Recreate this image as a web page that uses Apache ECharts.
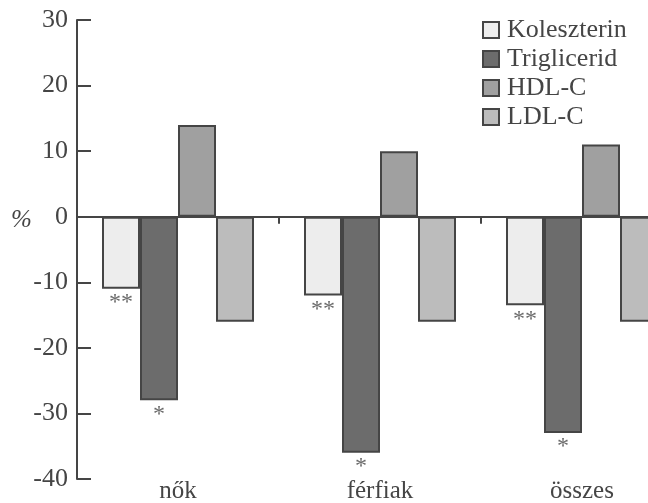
<!DOCTYPE html>
<html>
<head>
<meta charset="utf-8">
<script src="https://cdn.jsdelivr.net/npm/echarts@6/dist/echarts.min.js"></script>
<style>html,body{margin:0;padding:0;background:#fff;}#c{width:648px;height:503px;}</style>
</head>
<body>
<div id="c"></div>
<script>
const categories = ['nők', 'férfiak', 'összes'];
const seriesNames = ['Koleszterin', 'Triglicerid', 'HDL-C', 'LDL-C'];
const koleszterin = [-11, -12, -13.5];
const triglicerid = [-28, -36, -33];
const hdlC = [14, 10, 11];
const ldlC = [-16, -16, -16];
const kolMarks = ['**', '**', '**'];
const trigMarks = ['*', '*', '*'];
const yTicks = { min: -40, max: 30, interval: 10 };

const FONT = '"Liberation Serif", "DejaVu Serif", serif';
const INK = '#454545';
const fills = ['#ededed', '#6c6c6c', '#a0a0a0', '#bcbcbc'];
const values = [koleszterin, triglicerid, hdlC, ldlC];
const marks = [kolMarks, trigMarks, null, null];

const chart = echarts.init(document.getElementById('c'), null, { renderer: 'canvas' });

const series = seriesNames.map((name, i) => ({
  name: name,
  type: 'bar',
  xAxisIndex: 0,
  data: values[i],
  barWidth: 38,
  barGap: '0%',
  itemStyle: { color: fills[i], borderColor: INK, borderWidth: 2 },
  emphasis: { disabled: true },
  label: marks[i] ? {
    show: true,
    position: 'bottom',
    distance: 2,
    formatter: p => marks[i][p.dataIndex],
    fontFamily: FONT,
    fontSize: 24,
    color: '#6a6a6a'
  } : { show: false }
}));

chart.setOption({
  animation: false,
  backgroundColor: '#fff',
  grid: { left: 77, right: -35, top: 20, bottom: 24, containLabel: false, outerBoundsMode: 'none' },
  legend: {
    orient: 'vertical',
    left: 482,
    top: 17,
    padding: 0,
    itemWidth: 16,
    itemHeight: 16,
    itemGap: 3,
    icon: 'rect',
    data: seriesNames,
    textStyle: { fontFamily: FONT, fontSize: 26, color: INK, lineHeight: 26, padding: [0, 0, 0, 3] }
  },
  xAxis: [{
    type: 'category',
    data: categories,
    axisLine: { show: true, onZero: true, lineStyle: { color: INK, width: 2 } },
    axisTick: { show: true, inside: false, length: 7, lineStyle: { color: INK, width: 2 } },
    axisLabel: { show: false },
    splitLine: { show: false }
  }, {
    type: 'category',
    data: categories,
    position: 'bottom',
    axisLine: { show: false, onZero: false },
    axisTick: { show: false },
    axisLabel: { show: true, margin: 0, fontFamily: FONT, fontSize: 25, lineHeight: 25, color: INK },
    splitLine: { show: false }
  }],
  yAxis: {
    type: 'value',
    min: yTicks.min,
    max: yTicks.max,
    interval: yTicks.interval,
    axisLine: { show: true, lineStyle: { color: INK, width: 2 } },
    axisTick: { show: true, inside: true, length: 14, lineStyle: { color: INK, width: 2 } },
    axisLabel: { margin: 9, fontFamily: FONT, fontSize: 26, color: INK },
    splitLine: { show: false }
  },
  graphic: [{
    type: 'text',
    left: 11,
    top: 208,
    style: { text: '%', fontFamily: FONT, fontSize: 25, fontStyle: 'italic', fill: INK }
  }],
  series: series
});
</script>
</body>
</html>
